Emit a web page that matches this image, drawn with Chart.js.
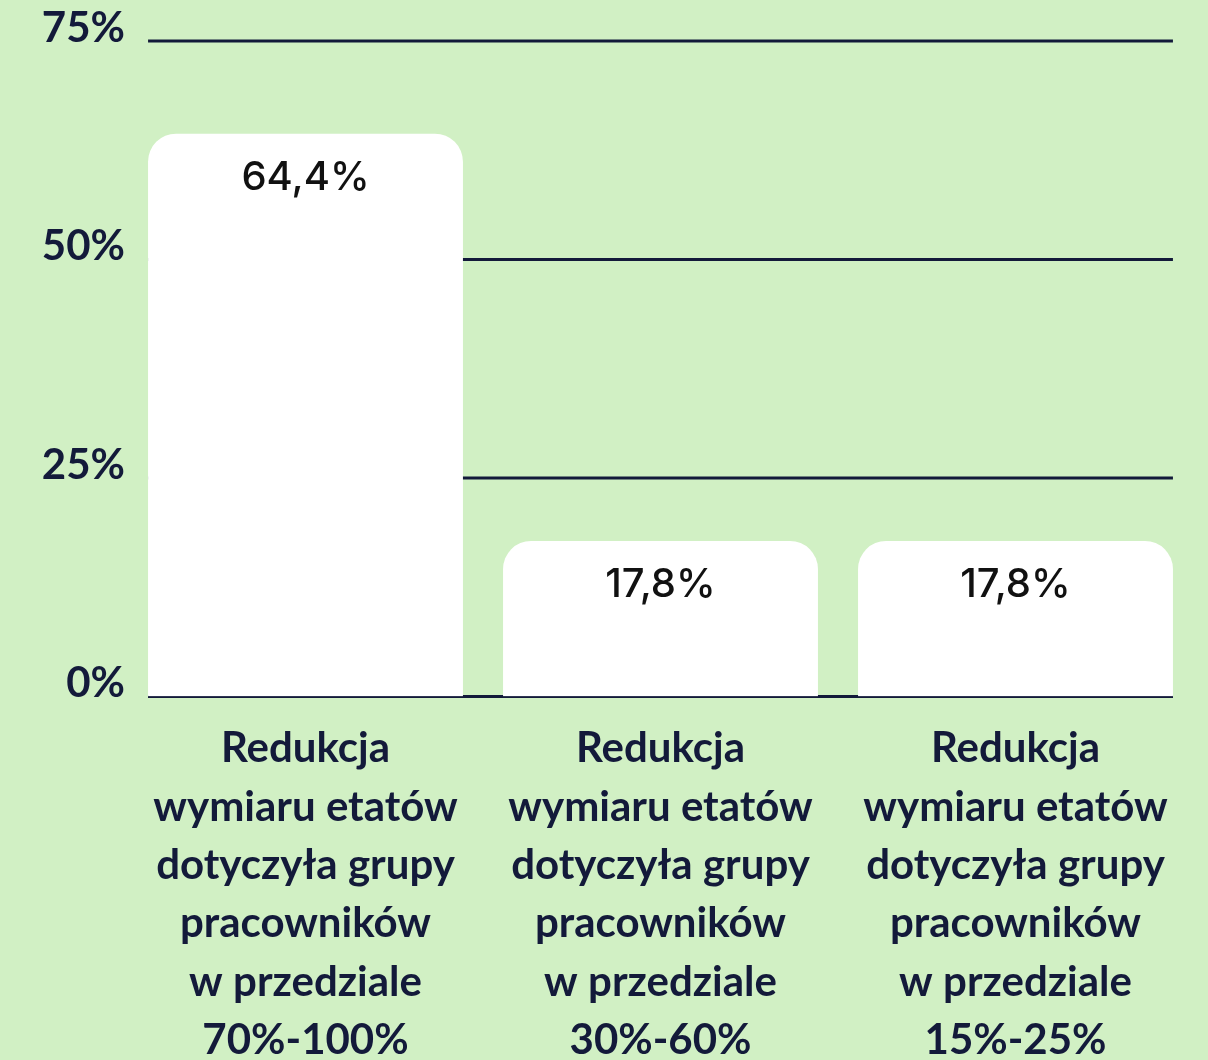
<!DOCTYPE html>
<html><head><meta charset="utf-8">
<script src="https://cdn.jsdelivr.net/npm/chart.js@4"></script>
<style>
html,body{margin:0;padding:0;background:#d1f0c4;}
#wrap{width:1208px;height:1060px;position:relative;}
</style></head>
<body><div id="wrap"><canvas id="c"></canvas></div>
<script>
const categories = [
  ["Redukcja","wymiaru etatów","dotyczyła grupy","pracowników","w przedziale","70%-100%"],
  ["Redukcja","wymiaru etatów","dotyczyła grupy","pracowników","w przedziale","30%-60%"],
  ["Redukcja","wymiaru etatów","dotyczyła grupy","pracowników","w przedziale","15%-25%"]
];
const values = [64.4, 17.8, 17.8];
const valueLabels = ["64,4%", "17,8%", "17,8%"];
const yTicks = [0, 25, 50, 75];

const DARK = '#131a3a';

const gridPlugin = {
  id: 'gridPlugin',
  beforeDatasetsDraw(chart) {
    const ctx = chart.ctx, y = chart.scales.y;
    const bars = chart.getDatasetMeta(0).data;
    const left = bars[0].x - bars[0].width / 2;
    const right = bars[bars.length - 1].x + bars[bars.length - 1].width / 2;
    ctx.save();
    ctx.strokeStyle = DARK; ctx.lineWidth = 3;
    yTicks.forEach(v => {
      const py = y.getPixelForValue(v);
      ctx.beginPath(); ctx.moveTo(left, py); ctx.lineTo(right, py); ctx.stroke();
    });
    ctx.restore();
  },
  afterDatasetsDraw(chart) {
    const ctx = chart.ctx, y = chart.scales.y;
    const bars = chart.getDatasetMeta(0).data;
    const left = bars[0].x - bars[0].width / 2;
    const right = bars[bars.length - 1].x + bars[bars.length - 1].width / 2;
    const py = y.getPixelForValue(0) + 0.75;
    ctx.save();
    ctx.strokeStyle = DARK; ctx.lineWidth = 1.5;
    ctx.beginPath(); ctx.moveTo(left, py); ctx.lineTo(right, py); ctx.stroke();
    ctx.fillStyle = '#111';
    ctx.font = '500 40px Inter';
    ctx.textAlign = 'center'; ctx.textBaseline = 'middle';
    bars.forEach((b, i) => {
      ctx.fillText(valueLabels[i], b.x, b.y + 44);
    });
    ctx.restore();
  }
};

new Chart(document.getElementById('c'), {
  type: 'bar',
  data: {
    labels: categories,
    datasets: [{
      data: values,
      backgroundColor: '#ffffff',
      borderWidth: 0,
      borderRadius: {topLeft: 28, topRight: 28, bottomLeft: 0, bottomRight: 0},
      borderSkipped: 'bottom',
      barPercentage: 0.887,
      categoryPercentage: 1
    }]
  },
  options: {
    responsive: true,
    maintainAspectRatio: false,
    animation: false,
    layout: {padding: {top: 41, right: 15, left: 0, bottom: 0}},
    plugins: {legend: {display: false}, tooltip: {enabled: false}},
    scales: {
      x: {
        grid: {display: false, drawTicks: false},
        border: {display: false},
        afterFit(s) { s.height = 363.5; },
        ticks: {
          color: DARK,
          font: {family: 'Lato', weight: 'bold', size: 42, lineHeight: 1.39},
          padding: 23,
          maxRotation: 0, autoSkip: false
        }
      },
      y: {
        min: 0, max: 75,
        afterFit(s) { s.width = 128; },
        afterBuildTicks(s) { s.ticks = yTicks.map(v => ({value: v})); },
        grid: {display: false, drawTicks: false},
        border: {display: false},
        ticks: {
          color: DARK,
          font: {family: 'Lato', weight: 'bold', size: 42},
          padding: 3,
          labelOffset: -13,
          callback: v => v + '%'
        }
      }
    }
  },
  plugins: [gridPlugin]
});
</script></body></html>
